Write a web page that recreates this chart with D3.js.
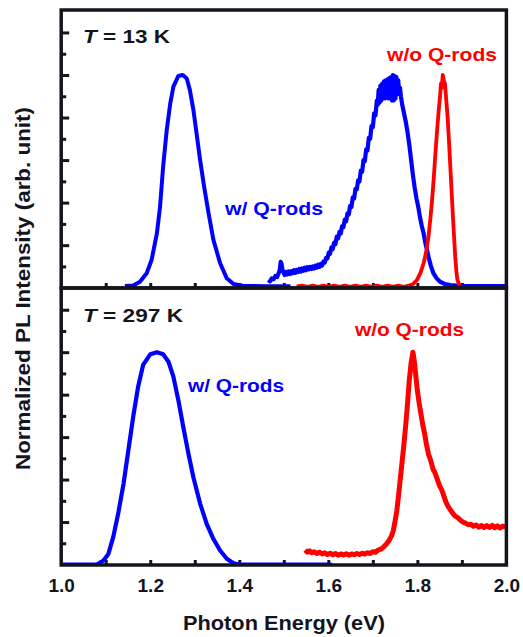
<!DOCTYPE html>
<html><head><meta charset="utf-8">
<script src="https://cdn.jsdelivr.net/npm/d3@7/dist/d3.min.js"></script>
<style>
html,body{margin:0;padding:0;background:#fff;}
svg{display:block;}
text{font-family:"Liberation Sans",Arial,Helvetica,sans-serif;font-weight:bold;}
</style></head><body>
<svg id="chart" width="523" height="637"></svg>
<script>
// ---------- DATA ----------
const xTickLabels = [1.0, 1.2, 1.4, 1.6, 1.8, 2.0];
const xMinorTicks = [1.1, 1.2, 1.3, 1.4, 1.5, 1.6, 1.7, 1.8, 1.9];
const yMajorTicks = [0.2, 0.4, 0.6, 0.8, 1.0, 1.2];
const yMinorTicks = [0.1, 0.3, 0.5, 0.7, 0.9, 1.1];

// 13 K, w/ Q-rods, IR detector part
const blue13IR = [[1.143,0.008],[1.162,0.010],[1.177,0.028],[1.192,0.068],[1.203,0.13],[1.215,0.256],
 [1.222,0.38],[1.229,0.57],[1.237,0.74],[1.245,0.867],[1.252,0.945],[1.263,0.995],[1.273,1.0],
 [1.282,0.984],[1.289,0.93],[1.297,0.835],[1.304,0.726],[1.312,0.60],[1.321,0.475],[1.331,0.35],
 [1.342,0.224],[1.357,0.115],[1.372,0.044],[1.387,0.017],[1.409,0.008],[1.460,0.007],[1.515,0.007]];
// 13 K, w/ Q-rods, visible detector part
const blue13Vis = [[1.465,0.036],[1.469,0.030],[1.473,0.044],[1.477,0.040],[1.481,0.055],[1.485,0.050],
 [1.489,0.072],[1.491,0.085],[1.493,0.122],[1.495,0.110],[1.497,0.085],[1.499,0.072],[1.502,0.060],
 [1.505,0.074],[1.508,0.062],[1.511,0.076],[1.514,0.064],[1.517,0.078],[1.520,0.068],[1.523,0.082],
 [1.526,0.070],[1.529,0.084],[1.532,0.074],[1.535,0.088],[1.538,0.076],[1.541,0.090],[1.544,0.080],
 [1.547,0.094],[1.550,0.082],[1.553,0.096],[1.556,0.086],[1.559,0.098],[1.562,0.088],[1.565,0.100],
 [1.568,0.090],[1.571,0.104],[1.574,0.094],[1.577,0.108],[1.580,0.098],[1.583,0.112],[1.586,0.104],
 [1.589,0.122],[1.592,0.118],[1.595,0.140],[1.598,0.138],[1.601,0.165],[1.604,0.160],[1.607,0.190],
 [1.610,0.182],[1.613,0.212],[1.616,0.205],[1.619,0.240],[1.622,0.232],[1.625,0.262],[1.628,0.255],
 [1.631,0.290],[1.634,0.285],[1.637,0.320],[1.640,0.312],[1.643,0.350],[1.646,0.345],[1.649,0.385],
 [1.652,0.380],[1.655,0.425],[1.658,0.420],[1.661,0.465],[1.664,0.462],[1.667,0.505],[1.670,0.500],
 [1.673,0.550],[1.676,0.545],[1.679,0.600],[1.682,0.595],[1.685,0.650],[1.688,0.645],[1.691,0.705],
 [1.694,0.700],[1.697,0.760],[1.700,0.755],[1.703,0.820],[1.706,0.810],[1.709,0.880],[1.711,0.860],
 [1.713,0.93],[1.715,0.87],[1.717,0.95],[1.719,0.88],[1.721,0.96],[1.723,0.89],[1.725,0.97],
 [1.727,0.89],[1.729,0.975],[1.731,0.90],[1.733,0.98],[1.735,0.89],[1.737,0.985],[1.739,0.89],
 [1.741,0.99],[1.743,0.88],[1.745,1.0],[1.747,0.88],[1.749,0.995],[1.751,0.89],[1.753,0.99],
 [1.755,0.91],[1.757,0.975],[1.759,0.92],[1.761,0.94],[1.763,0.90],[1.766,0.86],
 [1.770,0.82],[1.774,0.78],[1.778,0.73],[1.782,0.67],[1.786,0.60],[1.790,0.53],[1.794,0.47],
 [1.798,0.42],[1.802,0.38],[1.806,0.33],[1.810,0.29],[1.814,0.256],[1.818,0.21],[1.822,0.175],
 [1.825,0.146],[1.830,0.105],[1.836,0.068],[1.843,0.045],[1.851,0.028],[1.862,0.017],[1.874,0.012],
 [1.900,0.008],[1.950,0.007],[2.000,0.007]];
// 13 K, w/o Q-rods
const red13 = [[1.529,0.006],[1.541,0.010],[1.553,0.004],[1.565,0.010],[1.577,0.004],[1.589,0.010],
 [1.601,0.004],[1.613,0.010],[1.625,0.004],[1.637,0.010],[1.649,0.004],[1.661,0.010],[1.673,0.004],
 [1.685,0.010],[1.697,0.004],[1.709,0.010],[1.721,0.004],[1.733,0.010],[1.745,0.004],[1.757,0.010],
 [1.769,0.004],[1.781,0.010],[1.790,0.016],[1.799,0.036],[1.807,0.07],[1.814,0.115],[1.820,0.17],
 [1.825,0.24],[1.829,0.32],[1.833,0.41],[1.837,0.52],[1.840,0.616],[1.844,0.73],[1.848,0.835],
 [1.851,0.90],[1.853,0.96],[1.855,0.94],[1.857,1.0],[1.860,0.97],[1.862,0.96],[1.865,0.88],
 [1.868,0.80],[1.871,0.69],[1.874,0.57],[1.877,0.45],[1.880,0.33],[1.883,0.22],[1.885,0.146],
 [1.888,0.07],[1.890,0.036],[1.895,0.010]];
// 297 K, w/ Q-rods
const blue297 = [[1.000,0.0],[1.080,0.0],[1.095,0.019],[1.106,0.05],[1.117,0.13],[1.128,0.24],
 [1.140,0.38],[1.151,0.54],[1.162,0.70],[1.173,0.84],[1.184,0.94],[1.200,0.99],[1.215,1.0],
 [1.229,0.99],[1.241,0.955],[1.252,0.885],[1.263,0.775],[1.274,0.65],[1.286,0.52],[1.297,0.41],
 [1.312,0.287],[1.327,0.19],[1.342,0.12],[1.357,0.066],[1.372,0.027],[1.387,0.006],[1.402,0.0],
 [1.608,0.0]];
// 297 K, w/o Q-rods
const red297 = [[1.548,0.068],[1.553,0.058],[1.558,0.064],[1.563,0.055],[1.568,0.060],[1.574,0.052],
 [1.580,0.058],[1.586,0.050],[1.592,0.055],[1.598,0.047],[1.604,0.053],[1.610,0.046],[1.616,0.052],
 [1.622,0.044],[1.628,0.050],[1.634,0.045],[1.640,0.051],[1.646,0.044],[1.652,0.050],[1.658,0.046],
 [1.664,0.052],[1.670,0.047],[1.676,0.053],[1.682,0.049],[1.688,0.055],[1.694,0.052],[1.700,0.060],
 [1.706,0.058],[1.712,0.068],[1.718,0.072],[1.724,0.082],[1.730,0.095],[1.736,0.112],[1.742,0.135],
 [1.746,0.160],[1.750,0.205],[1.754,0.255],[1.758,0.33],[1.762,0.41],[1.766,0.49],[1.770,0.57],
 [1.774,0.66],[1.778,0.76],[1.782,0.87],[1.786,0.95],[1.790,1.0],[1.793,0.96],[1.796,0.90],
 [1.800,0.82],[1.804,0.76],[1.808,0.71],[1.812,0.66],[1.816,0.62],[1.820,0.57],[1.825,0.52],
 [1.830,0.49],[1.835,0.45],[1.840,0.43],[1.845,0.40],[1.850,0.37],[1.855,0.35],[1.860,0.32],
 [1.865,0.29],[1.870,0.27],[1.875,0.255],[1.880,0.24],[1.885,0.228],[1.890,0.222],[1.896,0.21],
 [1.902,0.200],[1.908,0.195],[1.914,0.188],[1.920,0.19],[1.926,0.18],[1.932,0.186],[1.938,0.176],
 [1.944,0.184],[1.950,0.174],[1.956,0.183],[1.962,0.175],[1.968,0.184],[1.974,0.173],[1.980,0.182],
 [1.986,0.172],[1.992,0.181],[1.998,0.175]];

const panelLabels = ["T = 13 K", "T = 297 K"];
const seriesLabels = ["w/ Q-rods", "w/o Q-rods"];
const xTitle = "Photon Energy (eV)";
const yTitle = "Normalized PL Intensity (arb. unit)";

// ---------- LAYOUT ----------
const BLUE = "#0000ff", RED = "#ff0000", INK = "#14141e";
const left = 61.2, right = 506.4;
const panels = [
  {top: 10, bottom: 288, zero: 287.7, one: 75, lines: [[blue13IR, BLUE, 4],[blue13Vis, BLUE, 4.2],[red13, RED, 3.8]],
   tempPos: [83, 43, 87], blueLbl: [225, 215, 98], redLbl: [387, 60.5, 110]},
  {top: 288, bottom: 565, zero: 564.5, one: 352.2, lines: [[blue297, BLUE, 4.2],[red297, RED, 5]],
   tempPos: [83, 322, 100], blueLbl: [188, 392, 96], redLbl: [355, 335.5, 109]}
];

const svg = d3.select("#chart");
const x = d3.scaleLinear().domain([1.0, 2.0]).range([left, right]);

panels.forEach((p, i) => {
  const y = d3.scaleLinear().domain([0, 1]).range([p.zero, p.one]);
  const g = svg.append("g");
  const clipId = "clip" + i;
  svg.append("clipPath").attr("id", clipId).append("rect")
    .attr("x", left).attr("y", p.top).attr("width", right - left).attr("height", p.bottom - p.top);

  const line = d3.line().x(d => x(d[0])).y(d => y(d[1]));
  const yMaj = g.append("g").attr("transform", `translate(${left},0)`)
    .call(d3.axisRight(y).tickValues(yMajorTicks).tickSize(8).tickFormat(""));
  const yMin = g.append("g").attr("transform", `translate(${left},0)`)
    .call(d3.axisRight(y).tickValues(yMinorTicks).tickSize(5).tickFormat(""));
  const xT = g.append("g").attr("transform", `translate(0,${p.bottom})`)
    .call(d3.axisTop(x).tickValues(xMinorTicks).tickSize(5).tickFormat(""));
  [yMaj, yMin, xT].forEach(a => {
    a.select(".domain").remove();
    a.selectAll("line").attr("stroke", INK).attr("stroke-width", 3);
  });

  const lg = g.append("g").attr("clip-path", `url(#${clipId})`);
  p.lines.forEach(([data, col, w]) => {
    lg.append("path").datum(data).attr("d", line)
      .attr("fill", "none").attr("stroke", col).attr("stroke-width", w)
      .attr("stroke-linejoin", "round").attr("stroke-linecap", "butt");
  });

  g.append("rect").attr("x", left).attr("y", p.top).attr("width", right - left).attr("height", p.bottom - p.top)
    .attr("fill", "none").attr("stroke", INK).attr("stroke-width", 3.5);

  const t = g.append("text").attr("x", p.tempPos[0]).attr("y", p.tempPos[1])
    .attr("font-size", 19).attr("fill", INK)
    .attr("textLength", p.tempPos[2]).attr("lengthAdjust", "spacingAndGlyphs");
  const parts = panelLabels[i].split(" ");
  t.append("tspan").attr("font-style", "italic").text(parts[0]);
  t.append("tspan").text(" " + parts.slice(1).join(" "));

  g.append("text").attr("x", p.blueLbl[0]).attr("y", p.blueLbl[1]).attr("font-size", 18.5)
    .attr("fill", BLUE).attr("textLength", p.blueLbl[2]).attr("lengthAdjust", "spacingAndGlyphs")
    .text(seriesLabels[0]);
  g.append("text").attr("x", p.redLbl[0]).attr("y", p.redLbl[1]).attr("font-size", 18.5)
    .attr("fill", RED).attr("textLength", p.redLbl[2]).attr("lengthAdjust", "spacingAndGlyphs")
    .text(seriesLabels[1]);
});

const xl = svg.append("g").attr("transform", `translate(0,566)`)
  .call(d3.axisBottom(x).tickValues(xTickLabels).tickSize(0).tickFormat(d3.format(".1f")));
xl.select(".domain").remove();
xl.selectAll("text").attr("y", 26).attr("dy", 0).attr("font-size", 19)
  .attr("font-family", '"Liberation Sans",Arial,sans-serif').attr("font-weight", "bold").attr("fill", INK);

svg.append("text").attr("x", 183).attr("y", 630).attr("font-size", 20).attr("fill", INK)
  .attr("textLength", 202).attr("lengthAdjust", "spacingAndGlyphs").text(xTitle);
svg.append("text").attr("transform", "translate(30,470) rotate(-90)").attr("font-size", 20).attr("fill", INK)
  .attr("textLength", 363).attr("lengthAdjust", "spacingAndGlyphs").text(yTitle);
</script>
</body></html>
